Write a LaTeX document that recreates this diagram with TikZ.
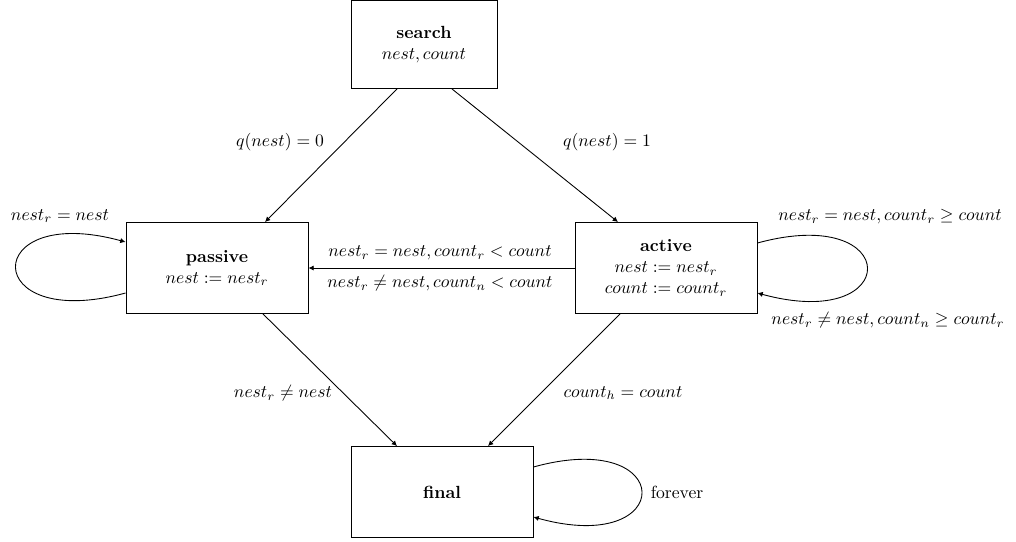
\documentclass[tikz,border=0pt]{standalone}
\usetikzlibrary{calc,arrows.meta}
\begin{document}
\begin{tikzpicture}[x=0.568pt,y=-0.568pt,line width=0.5pt,
  state/.style={draw,rectangle,minimum width=103.4pt,minimum height=51.7pt,align=center,inner sep=0pt},
  lbl/.style={inner sep=0pt},
  edge/.style={-{Latex[length=3pt,width=3pt]}}]
\useasboundingbox (0,0) rectangle (1016,541);
\node[state,minimum width=82.9pt,minimum height=50pt] (search) at (424,44.5) {\textbf{search}\\$nest, count$};
\node[state] (passive) at (217,268) {\textbf{passive}\\$nest := nest_r$};
\node[state] (active) at (666,268) {\textbf{active}\\$nest := nest_r$\\$count := count_r$};
\node[state] (final) at (442,492) {\textbf{final}};

\draw[edge] ($(search.south)+(-27,0)$) -- ($(passive.north)+(48,0)$);
\draw[edge] ($(search.south)+(28,0)$) -- ($(active.north)+(-48,0)$);
\draw[edge] (active.west) -- (passive.east);
\draw[edge] ($(passive.south)+(46,0)$) -- ($(final.north)+(-45,0)$);
\draw[edge] ($(active.south)+(-46,0)$) -- ($(final.north)+(46,0)$);

\draw[edge] ($(passive.west)+(0,25)$) .. controls +(-146,40) and +(-146,-40) .. ($(passive.west)+(0,-26)$);
\draw[edge] ($(active.east)+(0,-25)$) .. controls +(146,-40) and +(146,40) .. ($(active.east)+(0,25)$);
\draw[edge] ($(final.east)+(0,-25)$) .. controls +(144,-40) and +(144,40) .. ($(final.east)+(0,25)$);

\node[lbl] (l1) at (280,142) {$q(nest) = 0$};
\node[lbl] (l2) at (607,142) {$q(nest) = 1$};
\node[lbl] (l3) at (440,253) {$nest_r = nest, count_r < count$};
\node[lbl] (l4) at (440,283) {$nest_r \neq nest, count_n < count$};
\node[lbl] (l5) at (283,393) {$nest_r \neq nest$};
\node[lbl] (l6) at (623,393) {$count_h = count$};
\node[lbl] (l7) at (60,216) {$nest_r = nest$};
\node[lbl] (l8) at (890,217) {$nest_r = nest, count_r \geq count$};
\node[lbl] (l9) at (888,320) {$nest_r \neq nest, count_n \geq count_r$};
\node[lbl] (l10) at (677,492) {forever};
\end{tikzpicture}
\end{document}
